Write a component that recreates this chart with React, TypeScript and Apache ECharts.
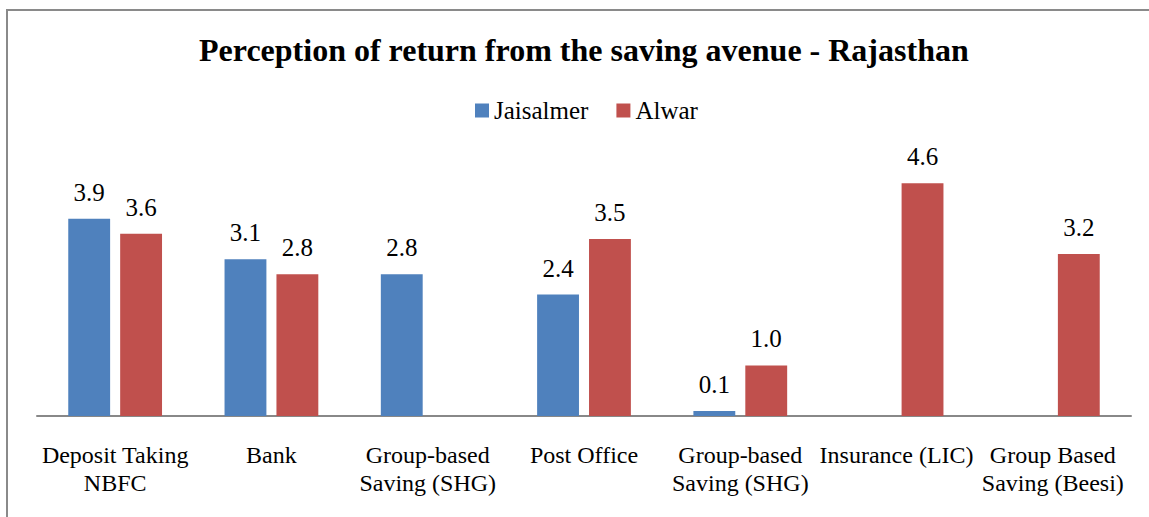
import React, { useEffect, useRef } from "react";
import * as echarts from "echarts";

const categories = [
  "Deposit Taking\nNBFC",
  "Bank",
  "Group-based\nSaving (SHG)",
  "Post Office",
  "Group-based\nSaving (SHG)",
  "Insurance (LIC)",
  "Group Based\nSaving (Beesi)",
];
const jaisalmer: (number | null)[] = [3.9, 3.1, 2.8, 2.4, 0.1, null, null];
const alwar: (number | null)[] = [3.6, 2.8, null, 3.5, 1.0, 4.6, 3.2];
const seriesNames = ["Jaisalmer", "Alwar"];
const colors = ["#4F81BD", "#C0504D"];
const titleText = "Perception of return from the saving avenue - Rajasthan";

const FONT = "Liberation Serif";

export default function App() {
  const ref = useRef<HTMLDivElement>(null);
  useEffect(() => {
    if (!ref.current) return;
    const chart = echarts.init(ref.current, null, { renderer: "svg" });
    const label = {
      show: true,
      position: "top" as const,
      distance: 14,
      color: "#000",
      fontFamily: FONT,
      fontSize: 25,
      formatter: (p: any) => (p.value == null ? "" : Number(p.value).toFixed(1)),
    };
    chart.setOption({
      animation: false,
      backgroundColor: "#fff",
      textStyle: { fontFamily: FONT },
      title: {
        text: titleText,
        left: 194,
        top: 29,
        textStyle: { fontFamily: FONT, fontSize: 32, fontWeight: "bold", color: "#000" },
      },
      legend: {
        data: seriesNames,
        left: 470,
        top: 93,
        itemWidth: 14,
        itemHeight: 14,
        itemGap: 28,
        icon: "rect",
        textStyle: { fontFamily: FONT, fontSize: 25, color: "#000" },
      },
      graphic: [
        {
          type: "rect",
          shape: { x: 7, y: 10, width: 1300, height: 700 },
          style: { fill: "none", stroke: "#8a8a8a", lineWidth: 2 },
          silent: true,
        },
      ],
      grid: { left: 37, right: 18, top: 163, bottom: 101 },
      xAxis: {
        type: "category",
        data: categories,
        axisLine: { lineStyle: { color: "#888", width: 2 } },
        axisTick: { show: false },
        axisLabel: {
          interval: 0,
          color: "#000",
          fontFamily: FONT,
          fontSize: 24,
          lineHeight: 28,
          margin: 25,
        },
      },
      yAxis: {
        type: "value",
        min: 0,
        max: 5,
        show: false,
        splitLine: { show: false },
      },
      series: [
        {
          name: seriesNames[0],
          type: "bar",
          data: jaisalmer,
          itemStyle: { color: colors[0] },
          barGap: "24%",
          barCategoryGap: "40%",
          label,
        },
        {
          name: seriesNames[1],
          type: "bar",
          data: alwar,
          itemStyle: { color: colors[1] },
          barGap: "24%",
          barCategoryGap: "40%",
          label,
        },
      ],
    });
    return () => chart.dispose();
  }, []);
  return (
    <div
      ref={ref}
      style={{ position: "fixed", left: 0, top: 0, width: 1149, height: 517 }}
    />
  );
}
